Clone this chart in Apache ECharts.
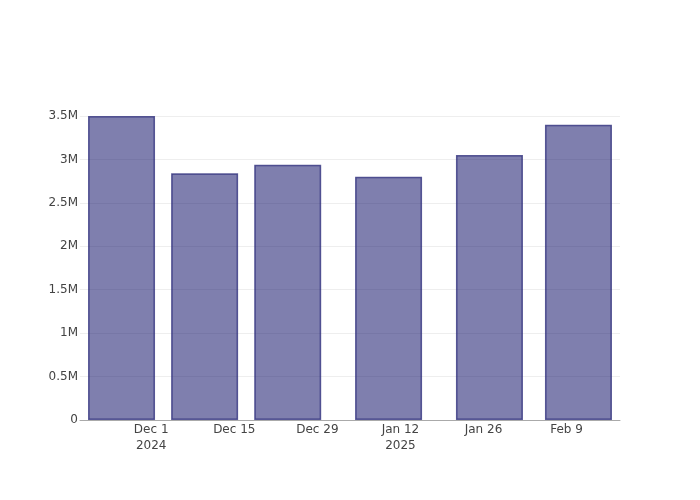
<!DOCTYPE html>
<html>
<head>
<meta charset="utf-8">
<script src="https://cdn.jsdelivr.net/npm/echarts@6/dist/echarts.min.js"></script>
<style>html,body{margin:0;padding:0;background:#fff}#c{width:700px;height:500px}</style>
</head>
<body>
<div id="c"></div>
<script>
// Data
const dates = ['2024-11-26', '2024-12-10', '2024-12-24', '2025-01-10', '2025-01-27', '2025-02-11'];
const values = [3500000, 2840000, 2940000, 2800000, 3050000, 3400000];
const xTickDates = ['2024-12-01', '2024-12-15', '2024-12-29', '2025-01-12', '2025-01-26', '2025-02-09'];
const xTickLabels = ['Dec 1\n2024', 'Dec 15', 'Dec 29', 'Jan 12\n2025', 'Jan 26', 'Feb 9'];
const yTickValues = [0, 500000, 1000000, 1500000, 2000000, 2500000, 3000000, 3500000];
const yTickLabels = ['0', '0.5M', '1M', '1.5M', '2M', '2.5M', '3M', '3.5M'];

const ts = s => Date.parse(s + 'T00:00:00Z');
const xTicks = xTickDates.map(ts);
const seriesData = dates.map((d, i) => [ts(d), values[i]]);

const chart = echarts.init(document.getElementById('c'), null, {renderer: 'canvas'});
const font = '"DejaVu Sans", sans-serif';
chart.setOption({
  animation: false,
  backgroundColor: '#fff',
  grid: {left: 80, right: 80, top: 116, bottom: 80},
  xAxis: {
    type: 'value',
    min: ts('2024-11-19'),
    max: ts('2025-02-18'),
    axisLine: {show: true, lineStyle: {color: '#aaaaaa', width: 1}},
    axisTick: {show: false},
    splitLine: {show: false},
    axisLabel: {
      customValues: xTicks,
      margin: 2,
      color: '#444',
      fontSize: 12,
      fontFamily: font,
      lineHeight: 16,
      formatter: v => {
        const i = xTicks.indexOf(v);
        return i >= 0 ? xTickLabels[i] : '';
      }
    }
  },
  yAxis: {
    type: 'value',
    min: 0,
    max: 3500000,
    interval: 500000,
    axisLine: {show: false},
    axisTick: {show: false},
    splitLine: {show: true, lineStyle: {color: '#eeeeee', width: 1}},
    axisLabel: {
      margin: 2,
      color: '#444',
      fontSize: 12,
      fontFamily: font,
      formatter: v => {
        const i = yTickValues.indexOf(v);
        return i >= 0 ? yTickLabels[i] : '';
      }
    }
  },
  series: [{
    type: 'bar',
    data: seriesData,
    barWidth: 67,
    itemStyle: {
      color: 'rgba(0,0,94,0.5)',
      borderColor: 'rgba(40,40,120,0.75)',
      borderWidth: 1.5
    }
  }]
});
</script>
</body>
</html>
